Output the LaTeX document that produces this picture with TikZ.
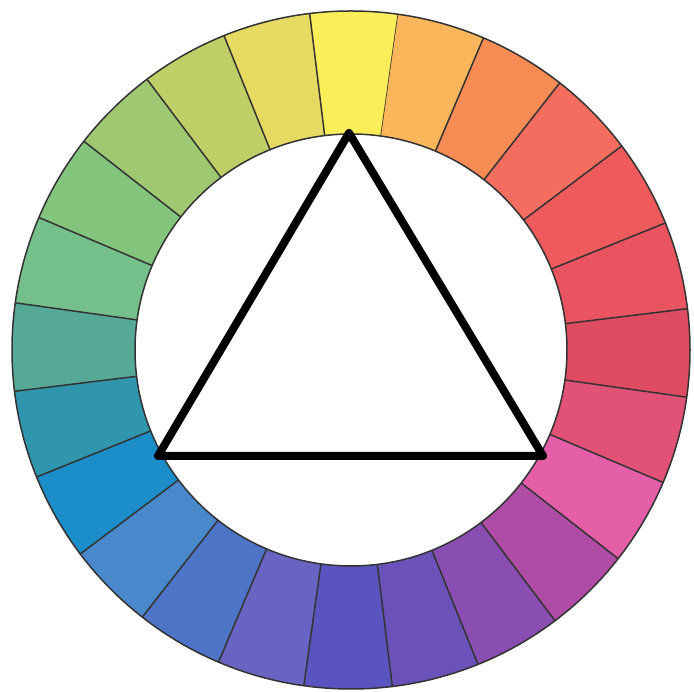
\documentclass[tikz,border=0pt]{standalone}
\begin{document}
\begin{tikzpicture}[x=1pt,y=1pt,
  rim/.style={draw=black!80,line width=1.5pt},
  tri/.style={draw=black,line width=8pt,line join=round}]
\useasboundingbox (0,0) rectangle (694,692);
\fill[white] (0,0) rectangle (694,692);
\def\Rout{339}
\def\Rin{216}
% colours of the 24 segments, counterclockwise from 82 degrees
\definecolor{s0}{HTML}{FBEE58}
\definecolor{s1}{HTML}{E6DA62}
\definecolor{s2}{HTML}{BFCE66}
\definecolor{s3}{HTML}{9EC872}
\definecolor{s4}{HTML}{84C57E}
\definecolor{s5}{HTML}{74BF8A}
\definecolor{s6}{HTML}{55A996}
\definecolor{s7}{HTML}{2F96AE}
\definecolor{s8}{HTML}{1B8DC8}
\definecolor{s9}{HTML}{4888CB}
\definecolor{s10}{HTML}{4D74C6}
\definecolor{s11}{HTML}{6964C4}
\definecolor{s12}{HTML}{5A54C0}
\definecolor{s13}{HTML}{6B52BA}
\definecolor{s14}{HTML}{8A4EB3}
\definecolor{s15}{HTML}{AE4CA6}
\definecolor{s16}{HTML}{E45EA8}
\definecolor{s17}{HTML}{E25176}
\definecolor{s18}{HTML}{DF4C62}
\definecolor{s19}{HTML}{E95460}
\definecolor{s20}{HTML}{EF5A5C}
\definecolor{s21}{HTML}{F46D5E}
\definecolor{s22}{HTML}{F98C55}
\definecolor{s23}{HTML}{FBB55A}
\begin{scope}[shift={(351,342)}]
  \foreach \k in {0,...,23}{
    \pgfmathsetmacro{\aa}{82+15*\k}
    \pgfmathsetmacro{\bb}{97+15*\k}
    \fill[s\k] (\aa:\Rin) -- (\aa:\Rout) arc[start angle=\aa,end angle=\bb,radius=\Rout]
      -- (\bb:\Rin) arc[start angle=\bb,end angle=\aa,radius=\Rin] -- cycle;
    \draw[rim] (\aa:\Rin) -- (\aa:\Rout);
  }
  \draw[rim] (0,0) circle[radius=\Rout];
  \draw[rim] (0,0) circle[radius=\Rin];
\end{scope}
\coordinate (apex) at (349,559);
\coordinate (left) at (158,236);
\coordinate (right) at (543,236);
\draw[tri] (apex) -- (right) -- (left) -- cycle;
\end{tikzpicture}
\end{document}
